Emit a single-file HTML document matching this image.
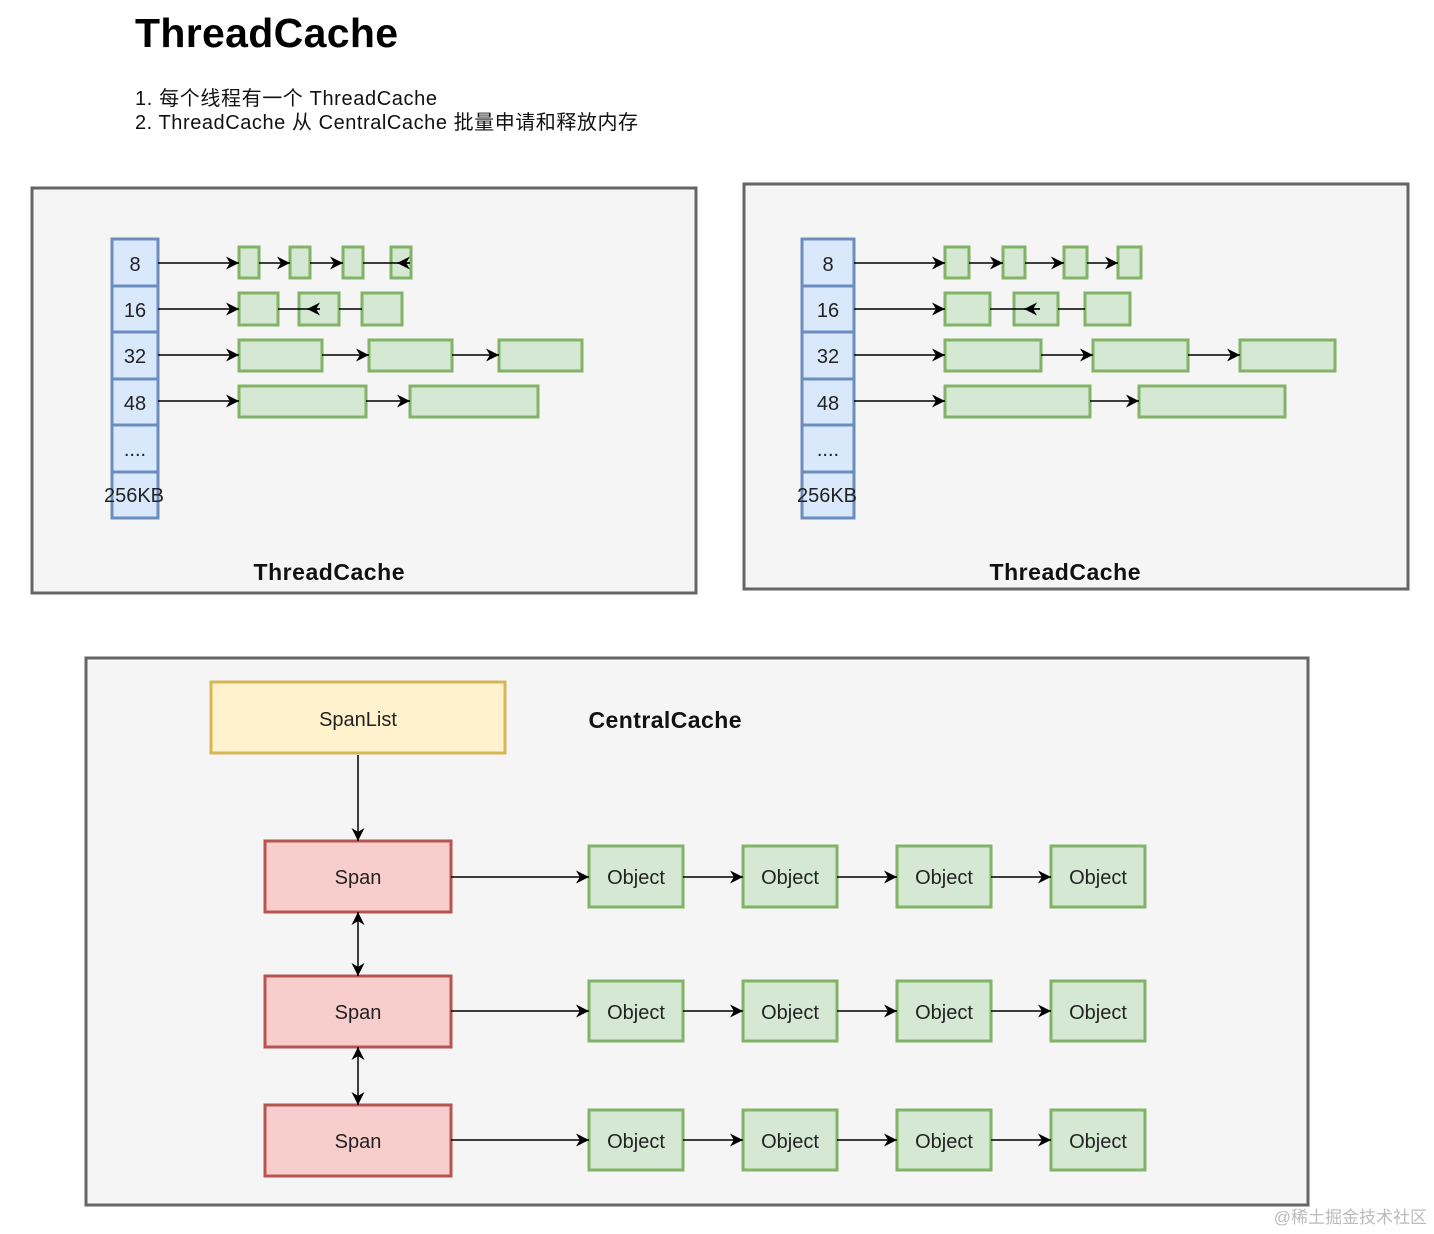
<!DOCTYPE html>
<html><head><meta charset="utf-8"><style>
html,body{margin:0;padding:0;background:#fff;}
svg{display:block;font-family:"Liberation Sans","Noto Sans CJK SC",sans-serif;}
</style></head><body>
<svg width="1434" height="1234" viewBox="0 0 1434 1234" xmlns="http://www.w3.org/2000/svg">
<defs>
<marker id="a" viewBox="0 0 10 10" refX="10" refY="5" markerWidth="13" markerHeight="13" markerUnits="userSpaceOnUse" orient="auto">
<path d="M0,0 L10,5 L0,10 L3,5 Z" fill="#000"/>
</marker>
<marker id="as" viewBox="0 0 10 10" refX="10" refY="5" markerWidth="13" markerHeight="13" markerUnits="userSpaceOnUse" orient="auto-start-reverse">
<path d="M0,0 L10,5 L0,10 L3,5 Z" fill="#000"/>
</marker>
</defs>
<rect width="1434" height="1234" fill="#fff"/>
<text x="135" y="47" font-size="41" font-weight="bold" fill="#000" textLength="263">ThreadCache</text>
<text x="135" y="105" font-size="20" fill="#111" textLength="302">1. 每个线程有一个 ThreadCache</text>
<text x="135" y="129" font-size="20" fill="#111" textLength="503">2. ThreadCache 从 CentralCache 批量申请和释放内存</text>

<!-- Left panel -->
<rect x="32" y="188" width="664" height="405" fill="#f5f5f5" stroke="#666" stroke-width="3"/>
<g fill="#dae8fc" stroke="#6c8ebf" stroke-width="3">
<rect x="112" y="239" width="46" height="47"/><rect x="112" y="286" width="46" height="46"/>
<rect x="112" y="332" width="46" height="47"/><rect x="112" y="379" width="46" height="46"/>
<rect x="112" y="425" width="46" height="47"/><rect x="112" y="472" width="46" height="46"/>
</g>
<g font-size="20" fill="#222" text-anchor="middle">
<text x="135" y="271">8</text><text x="135" y="317">16</text><text x="135" y="363">32</text><text x="135" y="410">48</text><text x="135" y="456">....</text><text x="134" y="502">256KB</text>
</g>
<g fill="#d5e8d4" stroke="#82b366" stroke-width="3">
<rect x="239" y="247" width="20" height="31"/><rect x="290" y="247" width="20" height="31"/><rect x="343" y="247" width="20" height="31"/><rect x="391" y="247" width="20" height="31"/>
<rect x="239" y="293" width="39" height="32"/><rect x="299" y="293" width="40" height="32"/><rect x="362" y="293" width="40" height="32"/>
<rect x="239" y="340" width="83" height="31"/><rect x="369" y="340" width="83" height="31"/><rect x="499" y="340" width="83" height="31"/>
<rect x="239" y="386" width="127" height="31"/><rect x="410" y="386" width="128" height="31"/>
</g>
<g stroke="#000" stroke-width="1.5" fill="none">
<line x1="158" y1="263" x2="239" y2="263" marker-end="url(#a)"/>
<line x1="259" y1="263" x2="290" y2="263" marker-end="url(#a)"/>
<line x1="310" y1="263" x2="343" y2="263" marker-end="url(#a)"/>
<line x1="363" y1="263" x2="410" y2="263"/>
<line x1="410" y1="263" x2="397" y2="263" marker-end="url(#a)"/>
<line x1="158" y1="309" x2="239" y2="309" marker-end="url(#a)"/>
<line x1="278" y1="309" x2="320" y2="309"/>
<line x1="320" y1="309" x2="307" y2="309" marker-end="url(#a)"/>
<line x1="339" y1="309" x2="362" y2="309"/>
<line x1="158" y1="355" x2="239" y2="355" marker-end="url(#a)"/>
<line x1="322" y1="355" x2="369" y2="355" marker-end="url(#a)"/>
<line x1="452" y1="355" x2="499" y2="355" marker-end="url(#a)"/>
<line x1="158" y1="401" x2="239" y2="401" marker-end="url(#a)"/>
<line x1="366" y1="401" x2="410" y2="401" marker-end="url(#a)"/>
</g>
<text x="329" y="580" font-size="23" font-weight="bold" text-anchor="middle" fill="#111" textLength="151">ThreadCache</text>

<!-- Right panel -->
<rect x="744" y="184" width="664" height="405" fill="#f5f5f5" stroke="#666" stroke-width="3"/>
<g fill="#dae8fc" stroke="#6c8ebf" stroke-width="3">
<rect x="802" y="239" width="52" height="47"/><rect x="802" y="286" width="52" height="46"/>
<rect x="802" y="332" width="52" height="47"/><rect x="802" y="379" width="52" height="46"/>
<rect x="802" y="425" width="52" height="47"/><rect x="802" y="472" width="52" height="46"/>
</g>
<g font-size="20" fill="#222" text-anchor="middle">
<text x="828" y="271">8</text><text x="828" y="317">16</text><text x="828" y="363">32</text><text x="828" y="410">48</text><text x="828" y="456">....</text><text x="827" y="502">256KB</text>
</g>
<g fill="#d5e8d4" stroke="#82b366" stroke-width="3">
<rect x="945" y="247" width="24" height="31"/><rect x="1003" y="247" width="22" height="31"/><rect x="1064" y="247" width="23" height="31"/><rect x="1118" y="247" width="23" height="31"/>
<rect x="945" y="293" width="45" height="32"/><rect x="1014" y="293" width="44" height="32"/><rect x="1085" y="293" width="45" height="32"/>
<rect x="945" y="340" width="96" height="31"/><rect x="1093" y="340" width="95" height="31"/><rect x="1240" y="340" width="95" height="31"/>
<rect x="945" y="386" width="145" height="31"/><rect x="1139" y="386" width="146" height="31"/>
</g>
<g stroke="#000" stroke-width="1.5" fill="none">
<line x1="854" y1="263" x2="945" y2="263" marker-end="url(#a)"/>
<line x1="969" y1="263" x2="1003" y2="263" marker-end="url(#a)"/>
<line x1="1025" y1="263" x2="1064" y2="263" marker-end="url(#a)"/>
<line x1="1087" y1="263" x2="1118" y2="263" marker-end="url(#a)"/>
<line x1="854" y1="309" x2="945" y2="309" marker-end="url(#a)"/>
<line x1="990" y1="309" x2="1040" y2="309"/>
<line x1="1040" y1="309" x2="1024" y2="309" marker-end="url(#a)"/>
<line x1="1058" y1="309" x2="1085" y2="309"/>
<line x1="854" y1="355" x2="945" y2="355" marker-end="url(#a)"/>
<line x1="1041" y1="355" x2="1093" y2="355" marker-end="url(#a)"/>
<line x1="1188" y1="355" x2="1240" y2="355" marker-end="url(#a)"/>
<line x1="854" y1="401" x2="945" y2="401" marker-end="url(#a)"/>
<line x1="1090" y1="401" x2="1139" y2="401" marker-end="url(#a)"/>
</g>
<text x="1065" y="580" font-size="23" font-weight="bold" text-anchor="middle" fill="#111" textLength="151">ThreadCache</text>

<!-- Central cache -->
<rect x="86" y="658" width="1222" height="547" fill="#f5f5f5" stroke="#666" stroke-width="3"/>
<rect x="211" y="682" width="294" height="71" fill="#fff2cc" stroke="#d6b656" stroke-width="3"/>
<text x="358" y="726" font-size="20" text-anchor="middle" fill="#222">SpanList</text>
<text x="665" y="728" font-size="23" font-weight="bold" text-anchor="middle" fill="#111" textLength="153">CentralCache</text>
<g fill="#f8cecc" stroke="#b85450" stroke-width="3">
<rect x="265" y="841" width="186" height="71"/><rect x="265" y="976" width="186" height="71"/><rect x="265" y="1105" width="186" height="71"/>
</g>
<g font-size="20" text-anchor="middle" fill="#222">
<text x="358" y="884">Span</text><text x="358" y="1019">Span</text><text x="358" y="1148">Span</text>
</g>
<g stroke="#000" stroke-width="1.5" fill="none">
<line x1="358" y1="755" x2="358" y2="841" marker-end="url(#a)"/>
<line x1="358" y1="912" x2="358" y2="976" marker-start="url(#as)" marker-end="url(#a)"/>
<line x1="358" y1="1047" x2="358" y2="1105" marker-start="url(#as)" marker-end="url(#a)"/>
</g>
<g fill="#d5e8d4" stroke="#82b366" stroke-width="3">
<rect x="589" y="846" width="94" height="61"/><rect x="743" y="846" width="94" height="61"/><rect x="897" y="846" width="94" height="61"/><rect x="1051" y="846" width="94" height="61"/>
<rect x="589" y="981" width="94" height="60"/><rect x="743" y="981" width="94" height="60"/><rect x="897" y="981" width="94" height="60"/><rect x="1051" y="981" width="94" height="60"/>
<rect x="589" y="1110" width="94" height="60"/><rect x="743" y="1110" width="94" height="60"/><rect x="897" y="1110" width="94" height="60"/><rect x="1051" y="1110" width="94" height="60"/>
</g>
<g font-size="20" text-anchor="middle" fill="#222">
<text x="636" y="884">Object</text><text x="790" y="884">Object</text><text x="944" y="884">Object</text><text x="1098" y="884">Object</text>
<text x="636" y="1019">Object</text><text x="790" y="1019">Object</text><text x="944" y="1019">Object</text><text x="1098" y="1019">Object</text>
<text x="636" y="1148">Object</text><text x="790" y="1148">Object</text><text x="944" y="1148">Object</text><text x="1098" y="1148">Object</text>
</g>
<g stroke="#000" stroke-width="1.5" fill="none">
<line x1="451" y1="877" x2="589" y2="877" marker-end="url(#a)"/>
<line x1="683" y1="877" x2="743" y2="877" marker-end="url(#a)"/>
<line x1="837" y1="877" x2="897" y2="877" marker-end="url(#a)"/>
<line x1="991" y1="877" x2="1051" y2="877" marker-end="url(#a)"/>
<line x1="451" y1="1011" x2="589" y2="1011" marker-end="url(#a)"/>
<line x1="683" y1="1011" x2="743" y2="1011" marker-end="url(#a)"/>
<line x1="837" y1="1011" x2="897" y2="1011" marker-end="url(#a)"/>
<line x1="991" y1="1011" x2="1051" y2="1011" marker-end="url(#a)"/>
<line x1="451" y1="1140" x2="589" y2="1140" marker-end="url(#a)"/>
<line x1="683" y1="1140" x2="743" y2="1140" marker-end="url(#a)"/>
<line x1="837" y1="1140" x2="897" y2="1140" marker-end="url(#a)"/>
<line x1="991" y1="1140" x2="1051" y2="1140" marker-end="url(#a)"/>
</g>
<text x="1427" y="1223" font-size="17" text-anchor="end" fill="#bbb">@稀土掘金技术社区</text>
</svg>
</body></html>
